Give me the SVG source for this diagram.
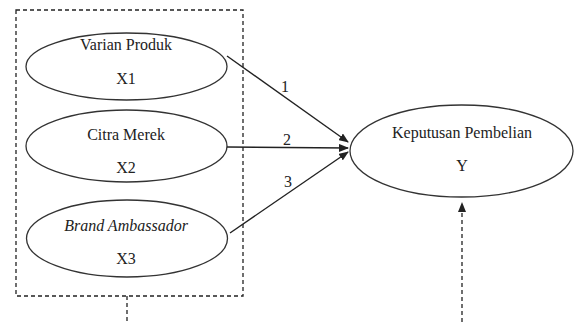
<svg xmlns="http://www.w3.org/2000/svg" width="574" height="322" viewBox="0 0 574 322">
<defs>
<style>
.n{fill:#fff;stroke:#333;stroke-width:1.3}
.t{font-family:"Liberation Serif","Times New Roman",serif;font-size:16px;fill:#222;text-anchor:middle}
.c{stroke:#222;stroke-width:1.4;fill:none}
.d{stroke:#222;stroke-width:1.3;fill:none;stroke-dasharray:4,3}
</style>
<marker id="ah" markerWidth="10" markerHeight="8" refX="9" refY="4" orient="auto" markerUnits="userSpaceOnUse">
<path d="M0,0 L10,4 L0,8 z" fill="#222"/>
</marker>
</defs>
<rect x="0" y="0" width="574" height="322" fill="#fff"/>
<g id="box"><rect x="16" y="10" width="227" height="286" class="d"/></g>
<g id="x1"><ellipse cx="126.5" cy="66.5" rx="100.5" ry="33.5" class="n"/><text x="126" y="50" class="t">Varian Produk</text><text x="126" y="84" class="t">X1</text></g>
<g id="x2"><ellipse cx="126.5" cy="146" rx="100.5" ry="36" class="n"/><text x="126" y="140" class="t">Citra Merek</text><text x="126" y="173" class="t">X2</text></g>
<g id="x3"><ellipse cx="127" cy="238.5" rx="100.5" ry="38.5" class="n"/><text x="126" y="231" class="t" font-style="italic">Brand Ambassador</text><text x="126" y="264" class="t">X3</text></g>
<g id="y"><ellipse cx="461.5" cy="151" rx="111.5" ry="46" class="n"/><text x="462" y="138" class="t">Keputusan Pembelian</text><text x="462" y="171" class="t">Y</text></g>
<g id="connectors">
<line x1="227" y1="56" x2="348" y2="142" class="c" marker-end="url(#ah)"/>
<line x1="227" y1="147" x2="348" y2="148" class="c" marker-end="url(#ah)"/>
<line x1="230" y1="233" x2="348" y2="152" class="c" marker-end="url(#ah)"/>
<line x1="127" y1="296" x2="127" y2="322" class="d"/>
<line x1="462" y1="322" x2="462" y2="203" class="d" marker-end="url(#ah)"/>
<text x="285" y="92" class="t">1</text>
<text x="287" y="145" class="t">2</text>
<text x="288" y="187" class="t">3</text>
</g>
</svg>
